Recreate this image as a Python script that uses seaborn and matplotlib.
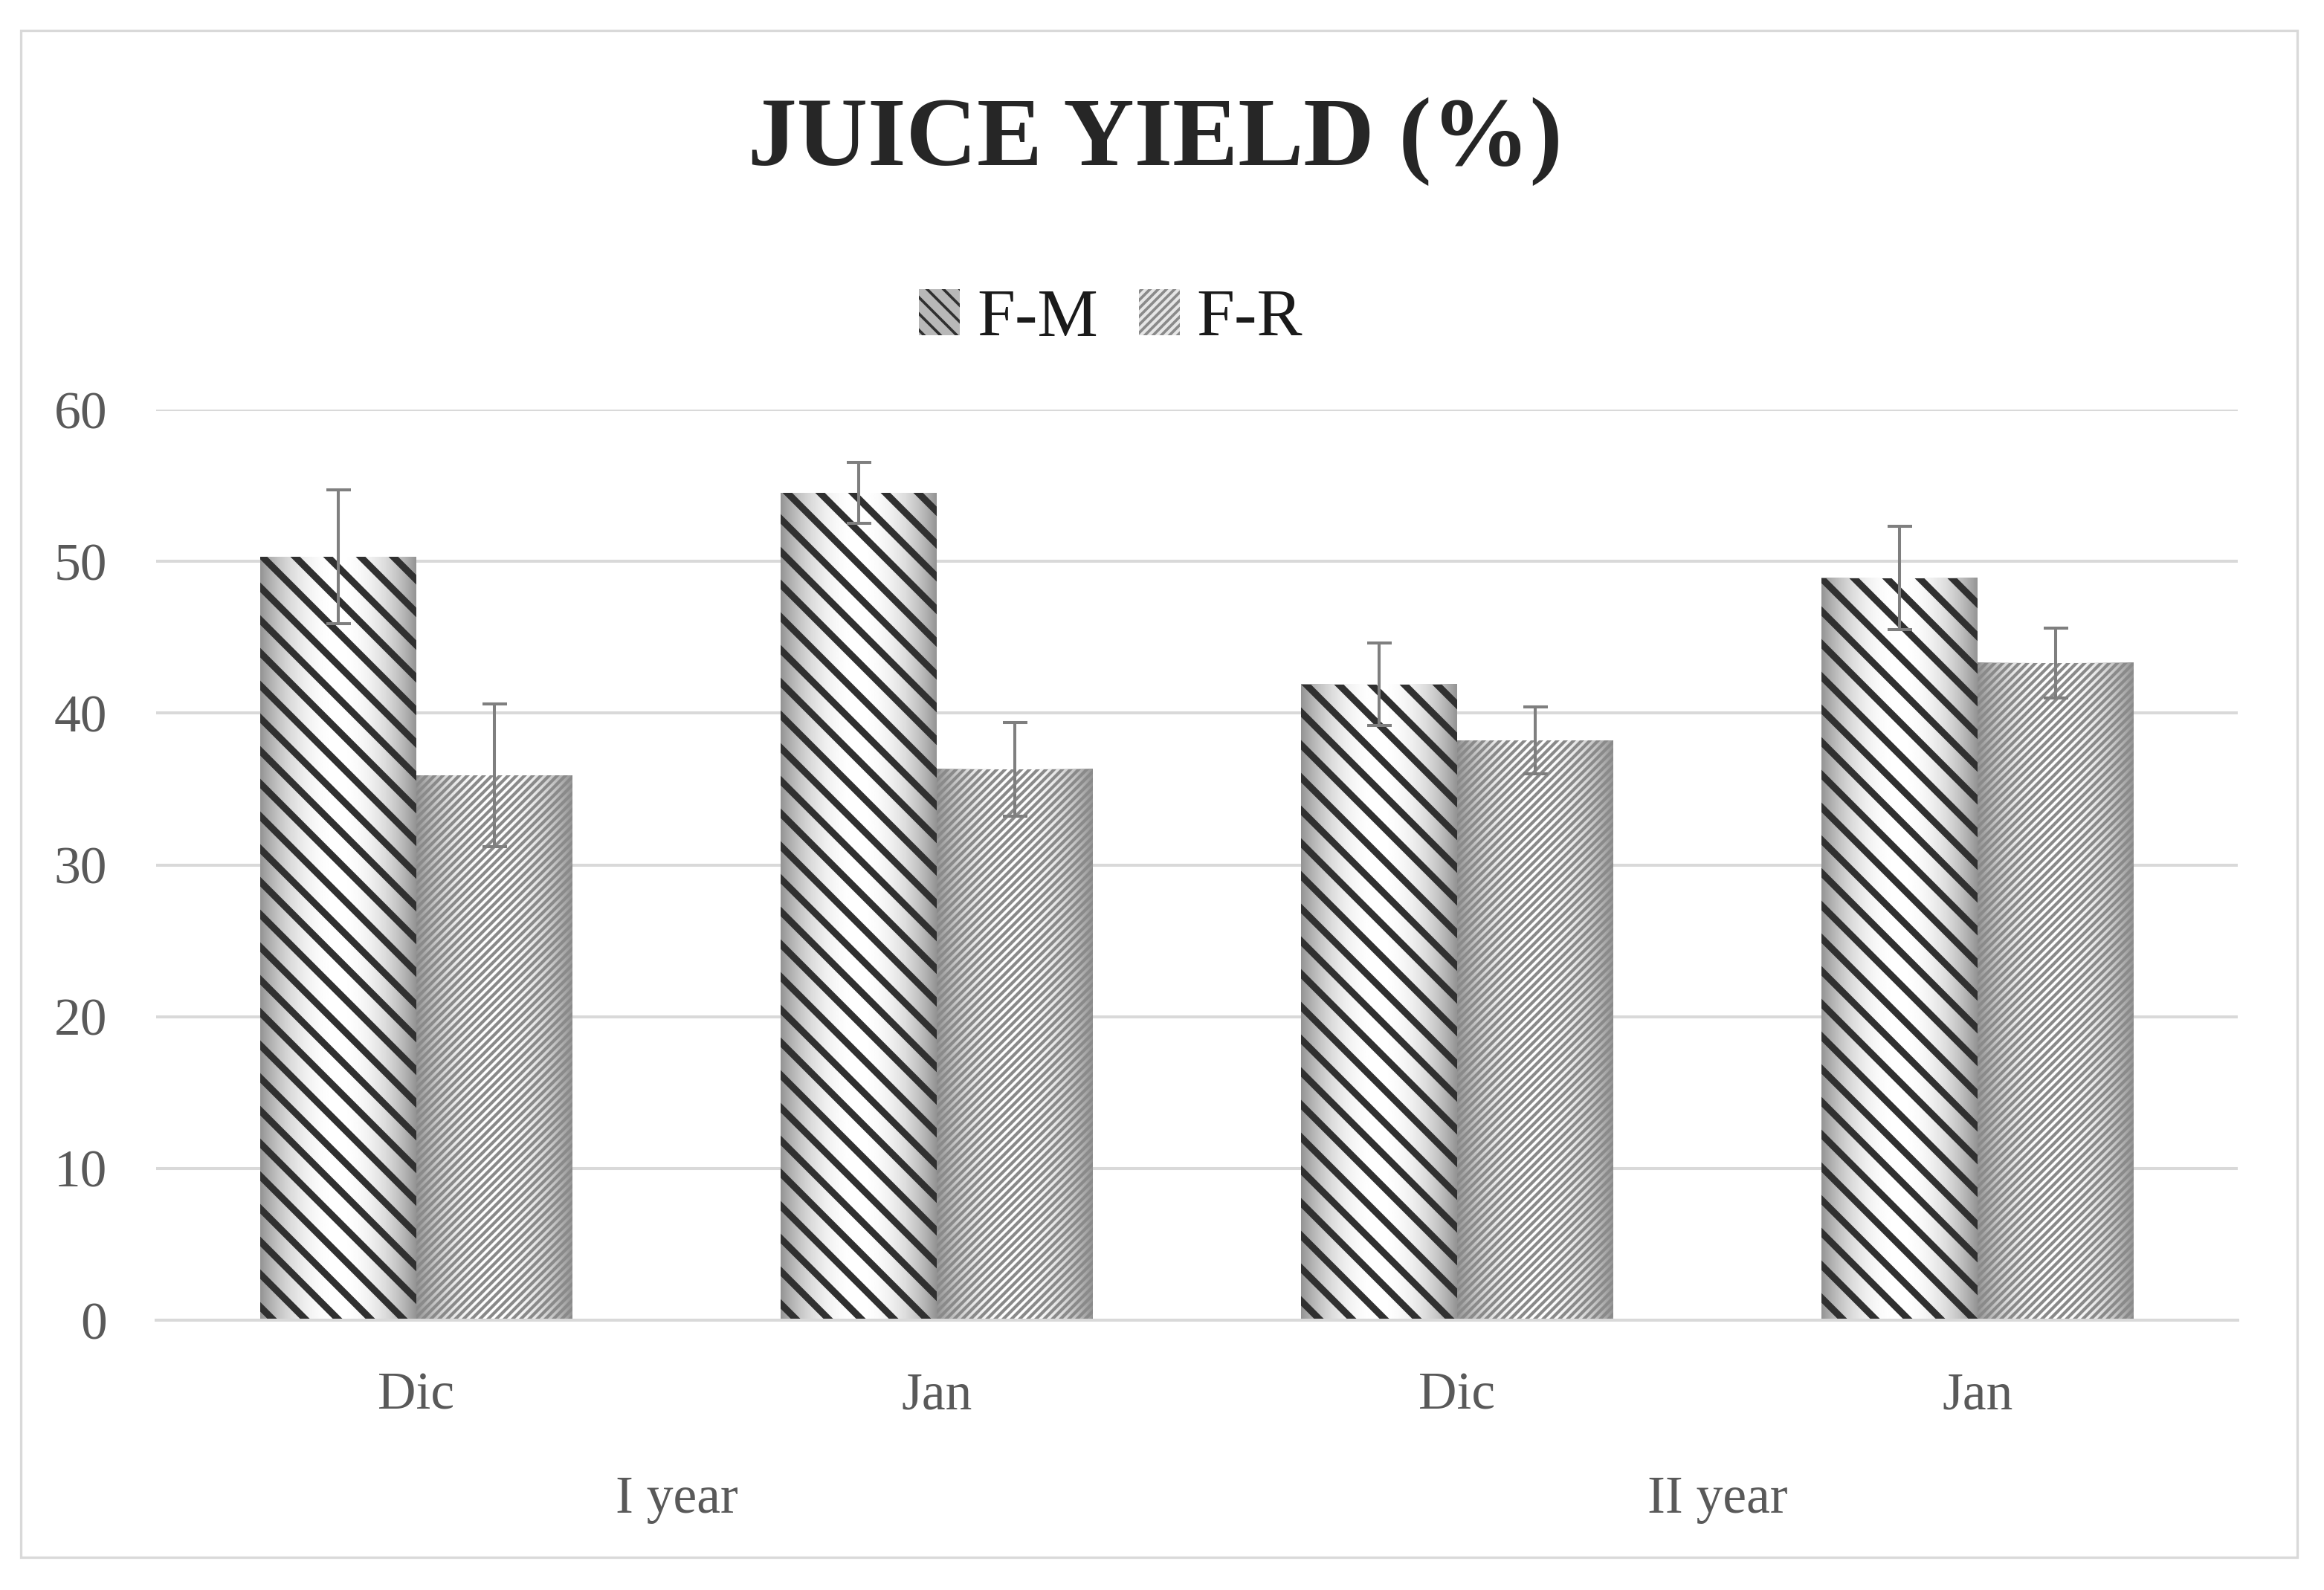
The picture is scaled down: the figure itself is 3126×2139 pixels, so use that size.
import numpy as np
import pandas as pd
import matplotlib
matplotlib.use("Agg")
import matplotlib.pyplot as plt
import matplotlib.transforms as mtransforms
from matplotlib.patches import Patch, Rectangle
import seaborn as sns

# Data
years = ["I year", "I year", "II year", "II year"]
months = ["Dic", "Jan", "Dic", "Jan"]
fm_mean = [50.3, 54.5, 41.9, 48.9]
fm_err = [4.4, 2.0, 2.7, 3.4]
fr_mean = [35.9, 36.3, 38.2, 43.3]
fr_err = [4.7, 3.1, 2.2, 2.3]
series = ["F-M", "F-R"]
title = "JUICE YIELD (%)"

cats = [y + " " + m for y, m in zip(years, months)]
df = pd.DataFrame({
    "cat": cats * 2,
    "series": [series[0]] * 4 + [series[1]] * 4,
    "value": fm_mean + fr_mean,
})

sns.set_style("white")
plt.rcParams["font.family"] = ["Liberation Serif", "DejaVu Serif"]

DPI = 264
fig = plt.figure(figsize=(3126 / DPI, 2139 / DPI), dpi=DPI)
ax = fig.add_axes([0.0672, 0.1697, 0.9629 - 0.0672, 0.7424 - 0.1697])

sns.barplot(data=df, x="cat", y="value", hue="series", order=cats,
            hue_order=series, palette=["#ffffff", "#ffffff"], width=0.6,
            errorbar=None, ax=ax, legend=False)

hatches = ["\\\\", "////////"]
hatch_colors = ["#303030", "#8a8a8a"]
hatch_widths = [2.5, 1.15]
errs = [fm_err, fr_err]

# horizontal "cylinder" shading under the hatch
t = np.linspace(0, 1, 256)
shade = 1 - 0.42 * np.abs(2 * t - 1) ** 2.2
grad = np.tile(shade, (2, 1))

for cont, h, hc, hw, e in zip(ax.containers, hatches, hatch_colors, hatch_widths, errs):
    xs, ys = [], []
    for p in cont.patches:
        x0, w, hgt = p.get_x(), p.get_width(), p.get_height()
        ax.imshow(grad, extent=[x0, x0 + w, 0, hgt], aspect="auto", cmap="gray",
                  vmin=0, vmax=1, zorder=1.5, interpolation="bilinear")
        p.set_facecolor("none")
        p.set_edgecolor(hc)
        p.set_linewidth(0)
        p.set_hatch(h)
        if hasattr(p, "set_hatch_linewidth"):
            p.set_hatch_linewidth(hw)
        p.set_zorder(2)
        xs.append(x0 + w / 2)
        ys.append(hgt)
    ax.errorbar(xs, ys, yerr=e, fmt="none", ecolor="#7f7f7f", elinewidth=1.1,
                capsize=4.5, capthick=1.1, zorder=3)

ax.set_xlim(-0.5, 3.5)
ax.set_ylim(0, 60)
ax.set_yticks(range(0, 61, 10))
ax.set_xticks(range(len(cats)))
ax.set_xticklabels(months)
ax.set_xlabel("")
ax.set_ylabel("")
ax.set_axisbelow(True)
ax.yaxis.grid(True, color="#d9d9d9", linewidth=1.1)
ax.xaxis.grid(False)
for s in ["left", "top", "right"]:
    ax.spines[s].set_visible(False)
ax.spines["bottom"].set_color("#d9d9d9")
ax.spines["bottom"].set_linewidth(1.1)
ax.tick_params(axis="y", length=0, pad=18, labelsize=19.5, labelcolor="#595959")
ax.tick_params(axis="x", length=0, pad=19, labelsize=19.5, labelcolor="#595959")

# year group labels
trans = mtransforms.blended_transform_factory(ax.transData, ax.transAxes)
for yr in dict.fromkeys(years):
    xc = np.mean([i for i, y in enumerate(years) if y == yr])
    ax.text(xc, -0.197, yr, transform=trans, ha="center", va="center",
            fontsize=19.5, color="#595959")

# title
fig.text(0.497, 0.911, title, ha="center", va="center",
         fontsize=36, fontweight="bold", color="#262626")

# legend
handles = []
for lab, h, hc, fc, hw in zip(series, ["\\\\\\\\", "////////"], hatch_colors,
                              ["#b8b8b8", "#e6e6e6"], [1.6, 1.0]):
    hp = Patch(facecolor=fc, edgecolor=hc, hatch=h, linewidth=0, label=lab)
    if hasattr(hp, "set_hatch_linewidth"):
        hp.set_hatch_linewidth(hw)
    handles.append(hp)
fig.legend(handles=handles, loc="center", bbox_to_anchor=(0.478, 0.799), ncol=2,
           frameon=False, fontsize=25, handlelength=0.6, handleheight=0.65,
           handletextpad=0.25, columnspacing=0.6, labelcolor="#1a1a1a")

# outer chart border
fig.add_artist(Rectangle((0.009, 0.0206), 0.9795, 0.9604, transform=fig.transFigure,
                         fill=False, edgecolor="#d9d9d9", linewidth=0.9))

fig.savefig("out.png", dpi=DPI, facecolor="white")
